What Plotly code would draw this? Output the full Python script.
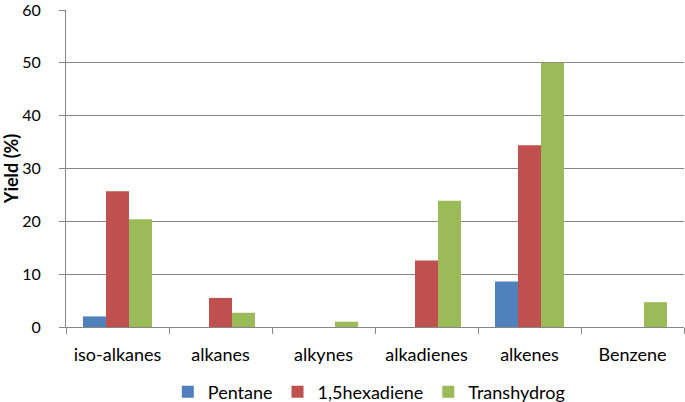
import plotly.graph_objects as go

categories = ["iso-alkanes", "alkanes", "alkynes", "alkadienes", "alkenes", "Benzene"]
pentane = [2.0, 0, 0, 0, 8.6, 0]
hexadiene = [25.7, 5.5, 0, 12.6, 34.4, 0]
transhydrog = [20.4, 2.7, 1.0, 23.9, 50.0, 4.7]
y_ticks = [0, 10, 20, 30, 40, 50, 60]
series_names = ["Pentane", "1,5hexadiene", "Transhydrog"]
colors = ["#4F81BD", "#C0504D", "#9BBB59"]

fig = go.Figure()
for name, vals, c in zip(series_names, [pentane, hexadiene, transhydrog], colors):
    fig.add_trace(go.Bar(x=categories, y=vals, name=name, marker=dict(color=c, line=dict(width=0))))

font = "Lato, 'Liberation Sans', sans-serif"
fig.update_layout(
    width=685, height=402,
    margin=dict(l=66, r=1, t=10, b=75, autoexpand=False),
    paper_bgcolor="white", plot_bgcolor="white",
    barmode="group", bargap=0.33, bargroupgap=0,
    font=dict(family=font, size=16, color="#000000"),
    showlegend=True,
    legend=dict(orientation="h", x=0.490, xanchor="center", y=-0.205, yanchor="middle",
                font=dict(size=18), itemwidth=30, traceorder="normal"),
)
fig.update_xaxes(
    showline=True, linecolor="#868686", linewidth=1, automargin=False,
    ticks="outside", tickson="boundaries", ticklen=6, tickcolor="#868686",
    tickfont=dict(size=18), showgrid=False, ticklabelstandoff=11,
)
fig.update_yaxes(
    range=[0, 60], tickvals=y_ticks, showline=True, linecolor="#868686", linewidth=1,
    automargin=False,
    ticks="outside", ticklen=6, tickcolor="#868686",
    showgrid=True, gridcolor="#868686", gridwidth=1, zeroline=False,
    tickfont=dict(size=16), ticklabelstandoff=15, ticklabeloverflow="allow",
    title=dict(text="<b>Yield (%)</b>", font=dict(size=18), standoff=7),
)
fig.write_html("out.html", post_script="document.body.style.margin='0';",
               config={"displayModeBar": False})
